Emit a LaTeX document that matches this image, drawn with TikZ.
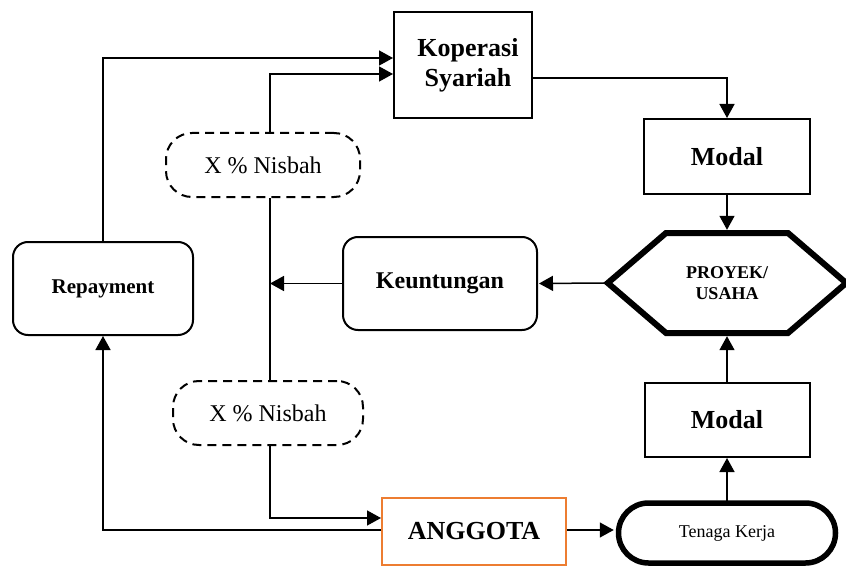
\documentclass[tikz,border=0pt]{standalone}
\usepackage{fontspec}
\setmainfont{Liberation Serif}
\usetikzlibrary{arrows.meta}
\definecolor{anggotaorange}{HTML}{ED7D31}
\tikzset{
  arr/.style={line width=1.5pt,-{Triangle[length=14pt,width=15pt]}},
  plain/.style={line width=1.5pt},
  boxnode/.style={draw,line width=2pt,align=center,inner sep=0pt},
  roundbox/.style={boxnode,rounded corners=15pt},
  nisbah/.style={draw,line width=2pt,dashed,dash pattern=on 9pt off 6pt,rounded corners=26pt,inner sep=0pt,font=\fontsize{24}{28}\selectfont},
  bigbold/.style={font=\fontsize{26}{30}\selectfont\bfseries},
}
\begin{document}
\begin{tikzpicture}[x=1pt,y=-1pt]
\useasboundingbox (0,0) rectangle (846,567);

% main boxes
\node[boxnode,bigbold,minimum width=138pt,minimum height=106pt] (kop) at (463,65) {\hspace*{10pt}Koperasi\\\hspace*{10pt}Syariah};
\node[boxnode,bigbold,minimum width=166pt,minimum height=75pt] (modalA) at (727,156.5) {Modal};
\node[boxnode,bigbold,minimum width=165pt,minimum height=74pt] (modalB) at (727,420) {Modal};
\node[roundbox,minimum width=194pt,minimum height=93pt,font=\fontsize{24}{28}\selectfont\bfseries] (kent) at (440,283.5) {Keuntungan};
\node[roundbox,minimum width=180pt,minimum height=93pt,font=\fontsize{21}{24}\selectfont\bfseries] (rep) at (103,288.5) {Repayment};
\node[nisbah,minimum width=194pt,minimum height=64pt] (nisA) at (263,165) {X \% Nisbah};
\node[nisbah,minimum width=190pt,minimum height=64pt] (nisB) at (268,413) {X \% Nisbah};
\node[draw=anggotaorange,line width=2pt,inner sep=0pt,bigbold,minimum width=184pt,minimum height=67pt] (ang) at (474,531.5) {ANGGOTA};
\node[draw,line width=5.5pt,rounded corners=30pt,inner sep=0pt,minimum width=217pt,minimum height=60pt,font=\fontsize{18}{21}\selectfont] (ten) at (727,533) {Tenaga Kerja};

% hexagon for the project
\node[inner sep=0pt,minimum width=238pt,minimum height=100pt,align=center,font=\fontsize{18}{21}\selectfont\bfseries] (hex) at (727,283) {PROYEK/\\USAHA};
\draw[line width=6pt,line join=miter]
  (hex.west) -- (666,233) -- (788,233) -- (hex.east) -- (788,333) -- (666,333) -- cycle;

% spine shared by the two nisbah boxes
\coordinate (sp) at (270,0);

% connectors
\draw[arr] (rep.north) |- ([yshift=7pt]kop.west);
\draw[arr] (sp |- nisA.north) |- ([yshift=-9pt]kop.west);
\draw[plain] (sp |- nisA.south) -- (sp |- nisB.north);
\draw[arr] (kent.west) -- (sp |- kent.west);
\draw[arr] (sp |- nisB.south) |- ([yshift=13.5pt]ang.west);
\draw[arr] ([yshift=1.5pt]ang.west) -| (rep.south);
\draw[arr,shorten >=2pt] ([yshift=1.5pt]ang.east) -- ([yshift=1.5pt]ang.east -| ten.west);
\draw[arr] ([yshift=-2.5pt]ten.north) -- (modalB.south);
\draw[arr,shorten >=3pt] (modalB.north) -- (hex.south);
\draw[arr,shorten >=3pt] (modalA.south) -- (hex.north);
\draw[arr,shorten >=1pt] ([xshift=-3pt]hex.west) -- (kent.east);
\draw[arr] ([yshift=-13pt]kop.east) -| (modalA.north);
\end{tikzpicture}
\end{document}
